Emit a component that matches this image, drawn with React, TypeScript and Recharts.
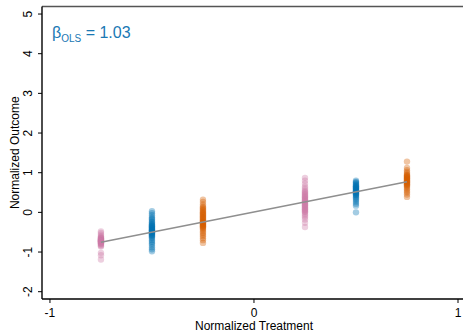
import React from 'react';
import {
  ScatterChart,
  Scatter,
  XAxis,
  YAxis,
  ReferenceLine,
} from 'recharts';

// treatment levels and the outcomes observed at each of them
const treatmentLevels = [-0.75, -0.5, -0.25, 0.25, 0.5, 0.75];

const outcomesNeg75 = [
  -0.48, -0.52, -0.56, -0.6, -0.62, -0.64, -0.65, -0.66, -0.67, -0.68, -0.69, -0.7, -0.7, -0.71,
  -0.72, -0.72, -0.73, -0.74, -0.74, -0.75, -0.76, -0.77, -0.78, -0.79, -0.8, -0.82, -0.84,
  -0.86, -1.02, -1.08, -1.19,
];
const outcomesNeg50 = [
  0.03, -0.02, -0.07, -0.12, -0.16, -0.18, -0.22, -0.25, -0.27, -0.3, -0.32, -0.33, -0.35,
  -0.36, -0.38, -0.39, -0.41, -0.42, -0.44, -0.45, -0.46, -0.47, -0.49, -0.5, -0.51, -0.52,
  -0.54, -0.55, -0.57, -0.58, -0.6, -0.63, -0.66, -0.7, -0.74, -0.78, -0.82, -0.88, -0.93, -0.98,
];
const outcomesNeg25 = [
  0.32, 0.26, 0.2, 0.15, 0.12, 0.1, 0.07, 0.05, 0.02, 0.0, -0.02, -0.04, -0.06, -0.08, -0.1,
  -0.12, -0.14, -0.16, -0.18, -0.2, -0.22, -0.23, -0.25, -0.26, -0.28, -0.29, -0.31, -0.32,
  -0.34, -0.35, -0.37, -0.38, -0.41, -0.44, -0.48, -0.52, -0.56, -0.6, -0.65, -0.7, -0.77,
];
const outcomesPos25 = [
  0.87, 0.8, 0.72, 0.65, 0.6, 0.55, 0.52, 0.5, 0.47, 0.45, 0.42, 0.4, 0.38, 0.36, 0.34, 0.32,
  0.3, 0.28, 0.26, 0.24, 0.22, 0.2, 0.18, 0.16, 0.14, 0.12, 0.1, 0.08, 0.06, 0.04, 0.02, 0.0,
  -0.04, -0.08, -0.12, -0.18, -0.26, -0.37,
];
const outcomesPos50 = [
  0.8, 0.77, 0.75, 0.72, 0.7, 0.68, 0.66, 0.65, 0.63, 0.62, 0.6, 0.59, 0.57, 0.56, 0.54, 0.53,
  0.51, 0.5, 0.48, 0.47, 0.45, 0.44, 0.41, 0.38, 0.35, 0.31, 0.27, 0.22, 0.17, 0.0,
];
const outcomesPos75 = [
  1.28, 1.12, 1.06, 1.02, 0.98, 0.95, 0.93, 0.92, 0.9, 0.89, 0.87, 0.86, 0.84, 0.83, 0.81,
  0.8, 0.78, 0.77, 0.75, 0.74, 0.72, 0.71, 0.69, 0.68, 0.65, 0.62, 0.58, 0.54, 0.5, 0.45, 0.39,
];
const outcomesByLevel = [
  outcomesNeg75, outcomesNeg50, outcomesNeg25, outcomesPos25, outcomesPos50, outcomesPos75,
];

// OLS fit endpoints
const fitX = [-0.75, 0.75];
const fitY = [-0.755, 0.77];
const betaOls = '1.03';

const xTicks = [-1, 0, 1];
const yTicks = [-2, -1, 0, 1, 2, 3, 4, 5];

const PINK = '#CC79A7';
const BLUE = '#0072B2';
const ORANGE = '#D55E00';
const levelColors = [PINK, BLUE, ORANGE, PINK, BLUE, ORANGE];

const X_DOMAIN: [number, number] = [-1.039, 1.0245];
const Y_DOMAIN: [number, number] = [-2.184, 5.19];
const FONT = '"Liberation Sans", Arial, Helvetica, sans-serif';

const fitData = fitX.map((x, i) => ({ x, y: fitY[i] }));

const dot = (color: string) => (props: any) => (
  <circle cx={props.cx} cy={props.cy} r={3.2} fill={color} fillOpacity={0.36} />
);

const XTick = (props: any) => (
  <text x={props.x} y={props.y + 11.5} textAnchor="middle" fontSize={12} fill="#000" fontFamily={FONT}>
    {props.payload.value}
  </text>
);

const YTick = (props: any) => {
  const bx = props.x - 3.5;
  return (
    <text
      x={bx}
      y={props.y}
      transform={`rotate(-90, ${bx}, ${props.y})`}
      textAnchor="middle"
      fontSize={12}
      fill="#000"
      fontFamily={FONT}
    >
      {props.payload.value}
    </text>
  );
};

export default function App() {
  return (
    <div style={{ position: 'absolute', left: 0, top: 0, width: 463, height: 332, background: '#fff' }}>
      <ScatterChart width={463} height={332} margin={{ top: 6.5, right: 0, bottom: 0, left: 0 }}>
        <XAxis
          type="number"
          dataKey="x"
          domain={X_DOMAIN}
          ticks={xTicks}
          allowDataOverflow
          height={33}
          tickSize={4}
          stroke="#000"
          axisLine={{ stroke: '#000', strokeWidth: 1.4 }}
          tickLine={{ stroke: '#000' }}
          tick={XTick}
          label={{
            content: (p: any) => (
              <text
                x={p.viewBox.x + (254 - 42)}
                y={p.viewBox.y + 30.5}
                textAnchor="middle"
                fontSize={12}
                fill="#000"
                fontFamily={FONT}
              >
                Normalized Treatment
              </text>
            ),
          }}
        />
        <YAxis
          type="number"
          dataKey="y"
          domain={Y_DOMAIN}
          ticks={yTicks}
          allowDataOverflow
          width={42}
          tickSize={4}
          axisLine={{ stroke: '#000', strokeWidth: 1.4 }}
          tickLine={{ stroke: '#000' }}
          tick={YTick}
          label={{
            content: (p: any) => {
              const cy = p.viewBox.y + p.viewBox.height / 2;
              return (
                <text
                  x={19}
                  y={cy}
                  transform={`rotate(-90, 19, ${cy})`}
                  textAnchor="middle"
                  fontSize={12}
                  fill="#000"
                  fontFamily={FONT}
                >
                  Normalized Outcome
                </text>
              );
            },
          }}
        />
        <ReferenceLine y={Y_DOMAIN[1]} stroke="#555" strokeWidth={1.6} />
        {treatmentLevels.map((level, i) => (
          <Scatter
            key={level}
            data={outcomesByLevel[i].map((y) => ({ x: level, y }))}
            shape={dot(levelColors[i])}
            isAnimationActive={false}
          />
        ))}
        <Scatter
          data={fitData}
          line={{ stroke: '#8f8f8f', strokeWidth: 1.6 }}
          lineType="joint"
          shape={() => <g />}
          isAnimationActive={false}
        />
      </ScatterChart>
      <div
        style={{
          position: 'absolute',
          left: 52,
          top: 23,
          fontFamily: FONT,
          fontSize: 16,
          color: '#1a78b4',
          whiteSpace: 'nowrap',
          lineHeight: '20px',
        }}
      >
        β<sub style={{ fontSize: 10 }}>OLS</sub> = {betaOls}
      </div>
    </div>
  );
}
